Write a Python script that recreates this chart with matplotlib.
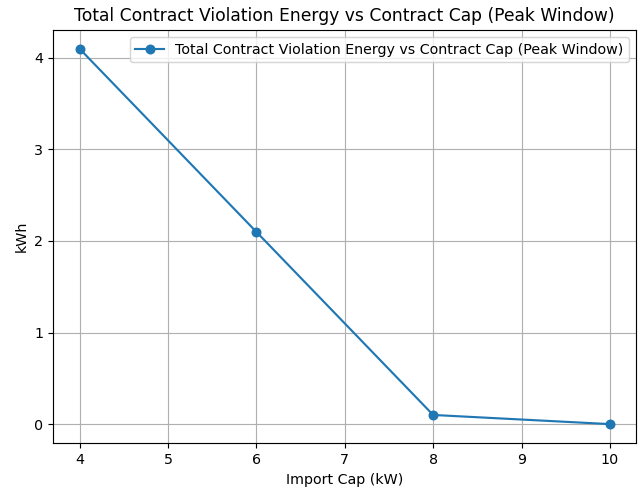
import matplotlib
matplotlib.use("Agg")
import matplotlib.pyplot as plt

import_cap_kw = [4, 6, 8, 10]
violation_kwh = [4.1, 2.1, 0.1, 0.0]
label = "Total Contract Violation Energy vs Contract Cap (Peak Window)"

DPI = 102.5
fig = plt.figure(figsize=(639 / DPI, 491 / DPI), dpi=DPI)
ax = fig.add_axes([0.083, 0.098, 0.913, 0.841])
ax.plot(import_cap_kw, violation_kwh, marker="o", label=label)
ax.set_title(label)
ax.set_xlabel("Import Cap (kW)")
ax.set_ylabel("kWh")
ax.grid(True)
ax.legend()
fig.savefig("out.png", dpi=DPI)
